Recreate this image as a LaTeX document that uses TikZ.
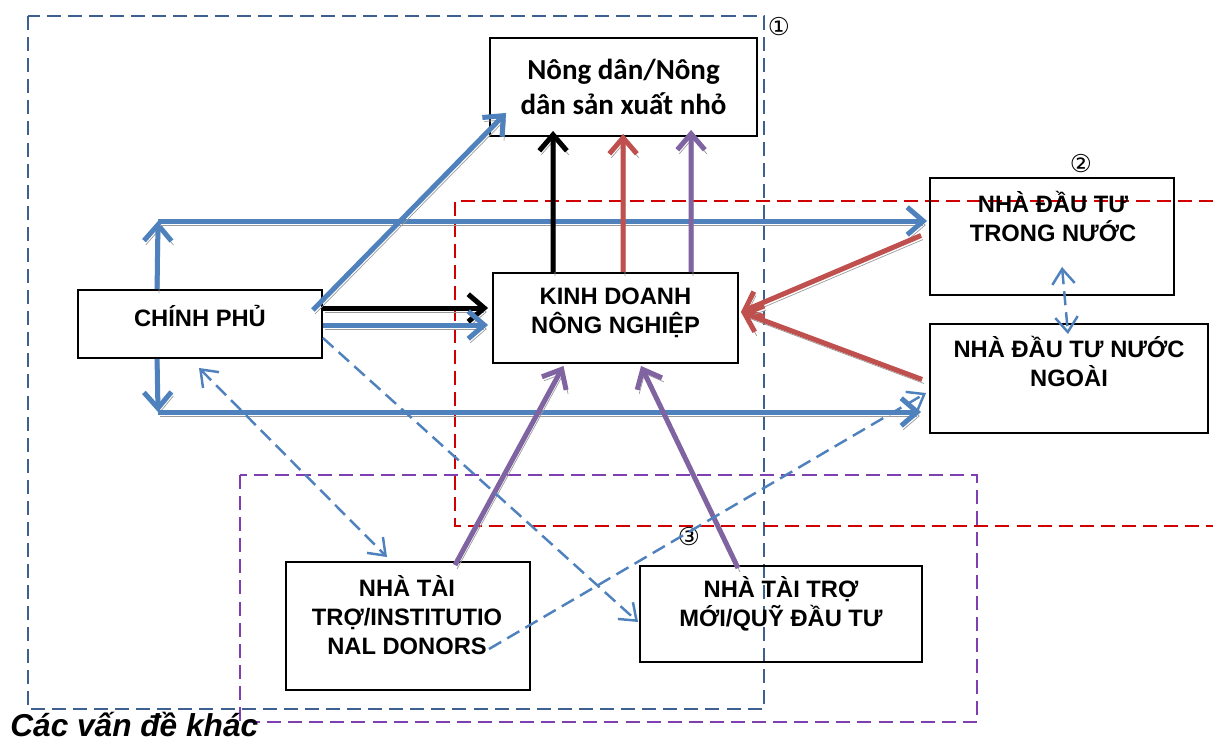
\documentclass[tikz,border=0pt]{standalone}
\usepackage{fontspec}
\setmainfont{Liberation Sans}
\newfontfamily\calfont{Carlito}
\newfontfamily\circfont{DejaVu Sans}
\usepackage{tikz}
\usetikzlibrary{positioning, calc, arrows.meta}
\definecolor{arrblue}{HTML}{4F81BD}
\definecolor{arrred}{HTML}{C0504D}
\definecolor{arrpurple}{HTML}{8064A2}
\definecolor{frameblue}{HTML}{3E6090}
\definecolor{framered}{HTML}{D00000}
\definecolor{framepurple}{HTML}{7E3FB0}
\definecolor{shadowgray}{HTML}{9A9A9A}
\newcommand{\boxfont}{\fontsize{13.5}{16.5}\selectfont\bfseries}
\tikzset{
	boxnode/.style={
			shape=rectangle,
			draw=black,
			line width=1.1pt,
			inner sep=0pt
		},
	boxtext/.style={
			align=center,
			font=\boxfont,
			inner sep=0pt
		},
	farmtext/.style={
			boxtext,
			font=\calfont\fontsize{16.5}{20}\selectfont\bfseries
		},
	circnum/.style={
			font=\circfont\fontsize{14}{15}\selectfont,
			inner sep=0pt
		}
}
\tikzset{
	frameline/.style={
			line width=0.9pt,
			dash pattern=on 8pt off 4pt
		},
	thickline/.style={
			line width=0.1cm,
			preaction={draw=shadowgray, transform canvas={shift={(2,4)}}}
		},
	thickarrow/.style={
			thickline,
			-{Straight Barb[length=0.32cm, width=0.55cm]}
		},
	dasharrow/.style={
			draw=arrblue,
			line width=1.4pt,
			dash pattern=on 8pt off 4pt,
			-{Straight Barb[length=0.3cm, width=0.45cm]}
		},
	dashboth/.style={
			dasharrow,
			{Straight Barb[length=0.3cm, width=0.45cm]}-{Straight Barb[length=0.3cm, width=0.45cm]}
		}
}

\begin{document}
\begin{tikzpicture}[x=0.02cm, y=-0.02cm]
  \useasboundingbox (0,0) rectangle (1213,740);

  % frames
  \draw[frameline, draw=frameblue] (28,16) rectangle (764,709);
  \draw[frameline, draw=framered] (1213,201) -- (455,201) -- (455,526) -- (1213,526);
  \draw[frameline, draw=framepurple] (240,475) rectangle (977,722);

  \node[circnum] (num1) at (779,27) {①};
  \node[circnum] (num2) at (1081,164) {②};
  \node[circnum] (num3) at (689,537) {③};

  % boxes
  \node[boxnode, minimum width=5.34cm, minimum height=1.96cm] (farm) at (623.5,87) {};
  \node[boxnode, minimum width=4.88cm, minimum height=1.36cm] (gov) at (200,324) {};
  \node[boxnode, minimum width=4.9cm, minimum height=1.8cm] (biz) at (615.5,318) {};
  \node[boxnode, minimum width=4.88cm, minimum height=2.34cm] (dom) at (1052,236.5) {};
  \node[boxnode, minimum width=5.56cm, minimum height=2.18cm] (frn) at (1069,378.5) {};
  \node[boxnode, minimum width=4.88cm, minimum height=2.56cm] (donor) at (408,626) {};
  \node[boxnode, minimum width=5.64cm, minimum height=1.92cm] (fund) at (781,614) {};

  \node[farmtext] (farmlbl) at (farm) {Nông dân/Nông\\dân sản xuất nhỏ};
  \node[boxtext] (govlbl) at ($(gov)+(0,-8)$) {CHÍNH PHỦ};
  \node[boxtext] (bizlbl) at ($(biz)+(0,-5)$) {KINH DOANH\\NÔNG NGHIỆP};
  \node[boxtext] (domlbl) at ($(dom)+(1,-20)$) {NHÀ ĐẦU TƯ\\TRONG NƯỚC};
  \node[boxtext] (frnlbl) at ($(frn)+(0,-17)$) {NHÀ ĐẦU TƯ NƯỚC\\NGOÀI};
  \node[boxtext] (donorlbl) at ($(donor)+(-1,-11)$) {NHÀ TÀI\\TRỢ/INSTITUTIO\\NAL DONORS};
  \node[boxtext] (fundlbl) at ($(fund)+(0,-10)$) {NHÀ TÀI TRỢ\\MỚI/QUỸ ĐẦU TƯ};

  \node[anchor=base west, inner sep=0pt, font=\fontsize{18}{20}\selectfont\bfseries\itshape] (other) at (10,736) {Các vấn đề khác};

  % government arrows
  \coordinate (topjoin) at (158,221);
  \coordinate (botjoin) at (158,412);
  \draw[thickarrow, draw=arrblue] ($(gov.north west)+(80,0)$) -- (topjoin);
  \draw[thickarrow, draw=arrblue] (topjoin) -- ($(topjoin -| dom.west)+(-2,0)$);
  \draw[thickarrow, draw=arrblue] ($(gov.south west)+(80,0)$) -- (botjoin);
  \draw[thickarrow, draw=arrblue] (botjoin) -- ($(botjoin -| frn.west)+(-8,0)$);
  \draw[thickarrow, draw=arrblue] ($(gov.east)+(-10,-14)$) -- ($(farm.south west)+(17,-24)$);
  \draw[thickarrow, draw=black] ($(gov.east)+(0,-16)$) -- ($(biz.west)+(-4,-10)$);
  \draw[thickarrow, draw=arrblue] ($(gov.east)+(0,1)$) -- ($(biz.west)+(-4,7)$);

  % business to farmers
  \draw[thickarrow, draw=black] ($(biz.north west)+(61,0)$) -- ($(farm.south west)+(64,-6)$);
  \draw[thickarrow, draw=arrred] ($(biz.north west)+(131,0)$) -- ($(farm.south west)+(134,-3)$);
  \draw[thickarrow, draw=arrpurple] ($(biz.north west)+(199,0)$) -- ($(farm.south west)+(202,-7)$);

  % investors and donors to business
  \draw[thickarrow, draw=arrred] ($(dom.west)+(-8,-1)$) -- ($(biz.east)+(2,-6)$);
  \draw[thickarrow, draw=arrred] ($(frn.west)+(-7,1)$) -- ($(biz.east)+(2,-6)$);
  \draw[thickarrow, draw=arrpurple] ($(donor.north)+(47,4)$) -- ($(biz.south)+(-52,2)$);
  \draw[thickarrow, draw=arrpurple] ($(fund.north)+(-43,3)$) -- ($(biz.south)+(25.5,2)$);

  % dashed links
  \draw[dashboth] ($(gov.south)+(-1,9)$) -- ($(donor.north)+(-21,-4)$);
  \draw[dasharrow] ($(gov.east)+(0,14)$) -- ($(fund.west)+(-1,8)$);
  \draw[dasharrow] ($(donor)+(81,23)$) -- ($(frn.west)+(-3,14.5)$);
  \draw[dashboth] ($(dom.south)+(10,-29)$) -- ($(frn.north)+(-1,11)$);
\end{tikzpicture}
\end{document}
